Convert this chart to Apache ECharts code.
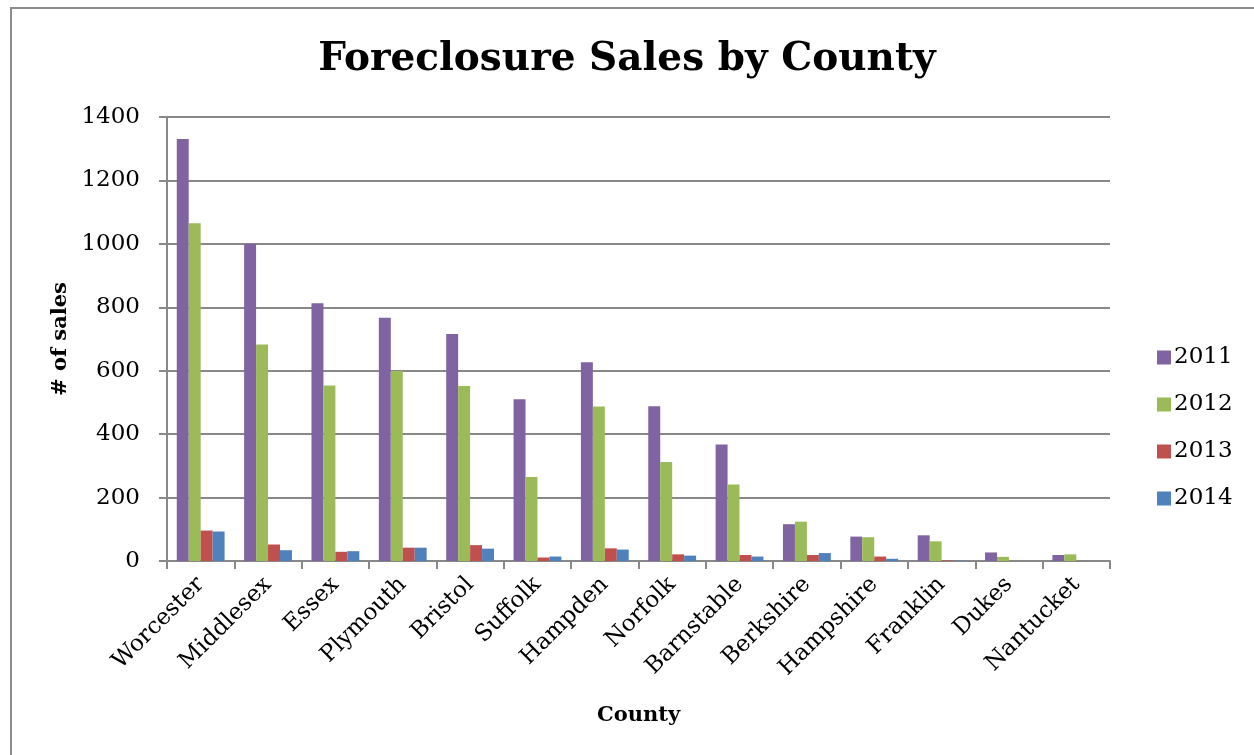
<!DOCTYPE html>
<html>
<head>
<meta charset="utf-8">
<title>Foreclosure Sales by County</title>
<script src="https://cdn.jsdelivr.net/npm/echarts@6/dist/echarts.min.js"></script>
<style>
  html, body { margin: 0; padding: 0; background: #fff; }
  #chart { width: 1254px; height: 755px; }
</style>
</head>
<body>
<div id="chart"></div>
<script>
// 县名
var counties = ['Worcester', 'Middlesex', 'Essex', 'Plymouth', 'Bristol', 'Suffolk', 'Hampden',
    'Norfolk', 'Barnstable', 'Berkshire', 'Hampshire', 'Franklin', 'Dukes', 'Nantucket'];
// 每年销售数
var sales2011 = [1331, 1000, 813, 767, 716, 510, 627, 488, 367, 116, 77, 81, 27, 19];
var sales2012 = [1065, 683, 553, 599, 552, 265, 487, 312, 241, 124, 75, 62, 13, 21];
var sales2013 = [96, 52, 29, 42, 50, 11, 40, 21, 19, 19, 14, 2, 0, 0];
var sales2014 = [93, 34, 31, 42, 39, 14, 36, 17, 14, 25, 7, 1, 0, 0];
var years = ['2011', '2012', '2013', '2014'];
var colors = ['#8064A2', '#9BBB59', '#C0504D', '#4F81BD'];

var serif = '"DejaVu Serif", "Liberation Serif", serif';

function barSeries(name, data, color) {
    return {
        name: name,
        type: 'bar',
        data: data,
        barGap: '0%',
        barCategoryGap: '29%',
        itemStyle: { color: color },
        emphasis: { disabled: true }
    };
}

var dom = document.getElementById('chart');
var myChart = echarts.init(dom, null, { renderer: 'canvas' });

var option = {
    animation: false,
    backgroundColor: '#fff',
    color: colors,
    title: {
        text: 'Foreclosure Sales by County',
        left: 'center',
        top: 35,
        textStyle: { fontFamily: serif, fontSize: 39, fontWeight: 'bold', color: '#000' }
    },
    legend: {
        orient: 'vertical',
        left: 1152,
        top: 341,
        itemWidth: 14,
        itemHeight: 14,
        itemGap: 24,
        icon: 'rect',
        data: years,
        textStyle: { fontFamily: serif, fontSize: 23, color: '#000', padding: [0, 0, 0, -2] }
    },
    grid: { left: 167, top: 117, right: 144, bottom: 194, containLabel: false },
    xAxis: {
        type: 'category',
        data: counties,
        name: 'County',
        nameLocation: 'middle',
        nameGap: 144,
        nameTextStyle: { fontFamily: serif, fontSize: 21, fontWeight: 'bold', color: '#000' },
        axisLine: { lineStyle: { color: '#888', width: 2 } },
        axisTick: { show: true, length: 8, lineStyle: { color: '#888', width: 2 } },
        axisLabel: { rotate: 45, margin: 20, fontFamily: serif, fontSize: 23, color: '#000', interval: 0 }
    },
    yAxis: {
        type: 'value',
        min: 0,
        max: 1400,
        interval: 200,
        name: '# of sales',
        nameLocation: 'middle',
        nameGap: 95,
        nameTextStyle: { fontFamily: serif, fontSize: 21, fontWeight: 'bold', color: '#000' },
        axisLine: { show: true, lineStyle: { color: '#888', width: 2 } },
        axisTick: { show: true, length: 8, lineStyle: { color: '#888', width: 2 } },
        axisLabel: {
            margin: 27, fontFamily: serif, fontSize: 23, color: '#000',
            formatter: function(v) { return String(v); }
        },
        splitLine: { lineStyle: { color: '#888', width: 2 } }
    },
    graphic: [{
        type: 'rect',
        shape: { x: 11, y: 8, width: 1400, height: 900 },
        style: { fill: 'none', stroke: '#8c8c8c', lineWidth: 2 },
        silent: true
    }],
    series: [
        barSeries(years[0], sales2011, colors[0]),
        barSeries(years[1], sales2012, colors[1]),
        barSeries(years[2], sales2013, colors[2]),
        barSeries(years[3], sales2014, colors[3])
    ]
};

myChart.setOption(option);
</script>
</body>
</html>
